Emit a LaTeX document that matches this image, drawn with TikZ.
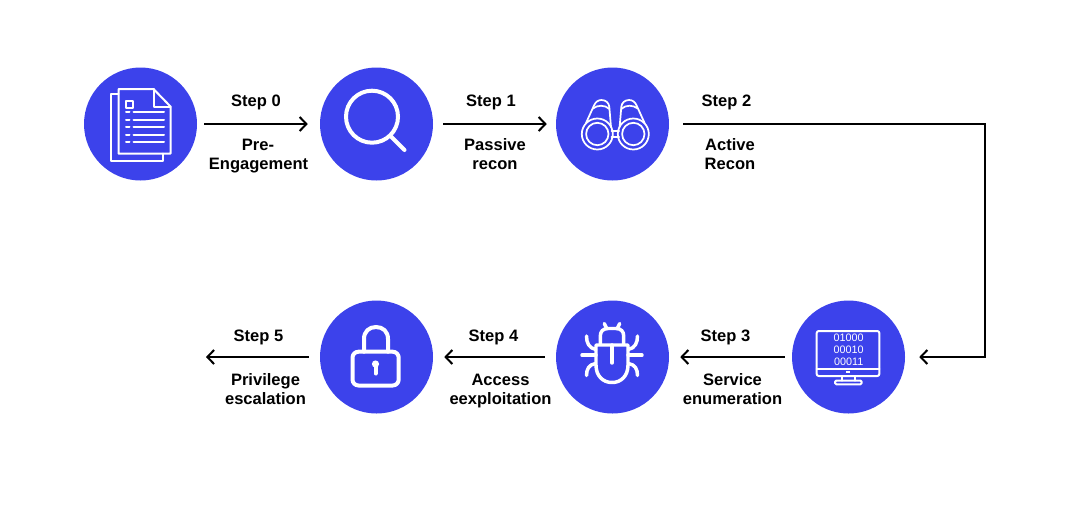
\documentclass[tikz,border=0pt]{standalone}
\usepackage{fontspec}
\setmainfont{Liberation Sans}
\usetikzlibrary{arrows.meta}
\definecolor{disc}{HTML}{3C42EB}
\tikzset{
  x=.75pt,y=-.75pt,
  stepdisc/.style={circle,fill=disc,inner sep=0pt,minimum size=84.75pt},
  lbl/.style={anchor=base,inner sep=0pt,text=black,font=\fontsize{12.4}{14}\selectfont\bfseries},
  flow/.style={draw=black,line width=1.5pt,-{Straight Barb[length=5pt,width=10.5pt,line width=1.5pt]}},
  ico/.style={draw=white,line width=1.5pt,line cap=round,line join=round},
  thin ico/.style={draw=white,line width=1.3pt,line cap=round,line join=round},
  thick ico/.style={draw=white,line width=2.6pt,line cap=round,line join=round},
  bits/.style={anchor=base,inner sep=0pt,text=white,font=\fontsize{8.1}{9}\selectfont},
}
\begin{document}
\begin{tikzpicture}
\useasboundingbox (0,0) rectangle (1080,519);
% discs
\node[stepdisc] (c0) at (140.5,124) {};
\node[stepdisc] (c1) at (376.5,124) {};
\node[stepdisc] (c2) at (612.5,124) {};
\node[stepdisc] (c3) at (848.5,357) {};
\node[stepdisc] (c4) at (612.5,357) {};
\node[stepdisc] (c5) at (376.5,357) {};
\coordinate (t1) at (985,124);
\coordinate (t2) at (985,357);
\coordinate (e5) at (206,357);
% connectors
\draw[flow,shorten <=5.25pt,shorten >=9pt] (c0) -- (c1);
\draw[flow,shorten <=7.5pt,shorten >=6.75pt] (c1) -- (c2);
\draw[flow,line join=miter,shorten <=10.5pt,shorten >=10.5pt] (c2) -- (t1) -- (t2) -- (c3);
\draw[flow,shorten <=5.25pt,shorten >=8.25pt] (c3) -- (c4);
\draw[flow,shorten <=8.25pt,shorten >=8.25pt] (c4) -- (c5);
\draw[flow,shorten <=8.25pt] (c5) -- (e5);
% labels
\node[lbl] (s0) at (256,106.7) {Step 0};
\node[lbl] (s0a) at (258,150) {Pre-};
\node[lbl] (s0b) at (258.5,169) {Engagement};
\node[lbl] (s1) at (491,106.7) {Step 1};
\node[lbl] (s1a) at (495,150) {Passive};
\node[lbl] (s1b) at (495,169) {recon};
\node[lbl] (s2) at (726.5,106.7) {Step 2};
\node[lbl] (s2a) at (730,150) {Active};
\node[lbl] (s2b) at (730,169) {Recon};
\node[lbl] (s3) at (725.5,341.5) {Step 3};
\node[lbl] (s3a) at (732.5,385) {Service};
\node[lbl] (s3b) at (732.5,404) {enumeration};
\node[lbl] (s4) at (493.5,341.5) {Step 4};
\node[lbl] (s4a) at (500.5,385) {Access};
\node[lbl] (s4b) at (500.5,404) {eexploitation};
\node[lbl] (s5) at (258.5,341.5) {Step 5};
\node[lbl] (s5a) at (265.5,385) {Privilege};
\node[lbl] (s5b) at (265.5,404) {escalation};
% document icon
\draw[ico] (118.5,89) -- (153.5,89) -- (170.5,106.5) -- (170.5,153.7) -- (118.5,153.7) -- cycle;
\draw[ico] (153.5,89) -- (153.5,106.5) -- (170.5,106.5);
\draw[ico] (118.5,93.5) -- (111,93.5) -- (111,161) -- (163.3,161) -- (163.3,153.7);
\draw[ico] (126.2,100.8) rectangle (133.2,107.8);
\foreach \yy in {112.3,120,127.3,134.7,142}{
  \draw[ico] (126,\yy) -- (129.5,\yy);
  \draw[ico] (133.5,\yy) -- (164,\yy);
}
% magnifier icon
\draw[draw=white,line width=3pt] (372,116.7) circle[radius=26];
\draw[thick ico,line width=3pt] (390.5,136) -- (404.5,150);
% binoculars icon
\foreach \mir/\sc in {0/1,1230.6/-1}{
  \begin{scope}[shift={(\mir,0)},xscale=\sc]
    \draw[thin ico] (597.3,134) circle[radius=15.5];
    \draw[thin ico] (597.3,134) circle[radius=11.2];
    \draw[thin ico] (586,123) -- (594,105.5) .. controls (595.5,102) and (598,100) .. (601.5,100) .. controls (606,100) and (609,103) .. (609.3,107) -- (611,127);
    \draw[thin ico] (593,108.5) .. controls (597,105) and (605,104.5) .. (609.4,109);
    \draw[thin ico] (611.5,130.7) -- (615.3,130.7);
    \draw[thin ico] (611.5,137.3) -- (615.3,137.3);
  \end{scope}
}
% monitor icon
\draw[ico,rounded corners=1.5pt] (816.7,331) rectangle (879.3,376);
\draw[ico] (816.7,368.7) -- (879.3,368.7);
\fill[white] (846.3,371) rectangle (850.3,373.2);
\draw[ico] (841.7,376) -- (841.7,380.5);
\draw[ico] (854.8,376) -- (854.8,380.5);
\draw[ico,rounded corners=1pt] (835,380.5) rectangle (861.7,384.3);
\node[bits] (b1) at (848.7,341.7) {01000};
\node[bits] (b2) at (848.7,353.5) {00010};
\node[bits] (b3) at (848.7,365.5) {00011};
% bug icon
\foreach \mir/\sc in {0/1,1224/-1}{
  \begin{scope}[shift={(\mir,0)},xscale=\sc]
    \draw[thick ico,line cap=butt] (612,345) -- (596,345) -- (596,365) .. controls (596,376) and (603,382.5) .. (612,382.5);
    \draw[thick ico,line cap=butt] (612,328.5) -- (608,328.5) .. controls (603,328.5) and (600.3,331.5) .. (600.3,336) -- (600.3,345);
    \draw[thick ico] (606.8,328.5) -- (604.3,323.5);
    \draw[thick ico] (595.7,349.5) .. controls (589,348) and (586.5,343) .. (586.5,336);
    \draw[thick ico] (596,355.2) -- (582,355.2);
    \draw[thick ico] (595.5,363.5) .. controls (589,364.5) and (586.5,369) .. (586.5,375.5);
  \end{scope}
}
\draw[thick ico] (612,345) -- (612,363);
% lock icon
\draw[thick ico,line width=3pt,rounded corners=4.5pt] (352.5,351.7) rectangle (398.7,385.5);
\draw[thick ico,line width=3pt] (364,351.7) -- (364,339) .. controls (364,331.5) and (369,327) .. (376,327) .. controls (383,327) and (388,331.5) .. (388,339) -- (388,351.7);
\fill[white] (375.5,364) circle[radius=3.6];
\draw[thick ico,line width=3pt] (375.5,365) -- (375.5,373.5);
\end{tikzpicture}
\end{document}
